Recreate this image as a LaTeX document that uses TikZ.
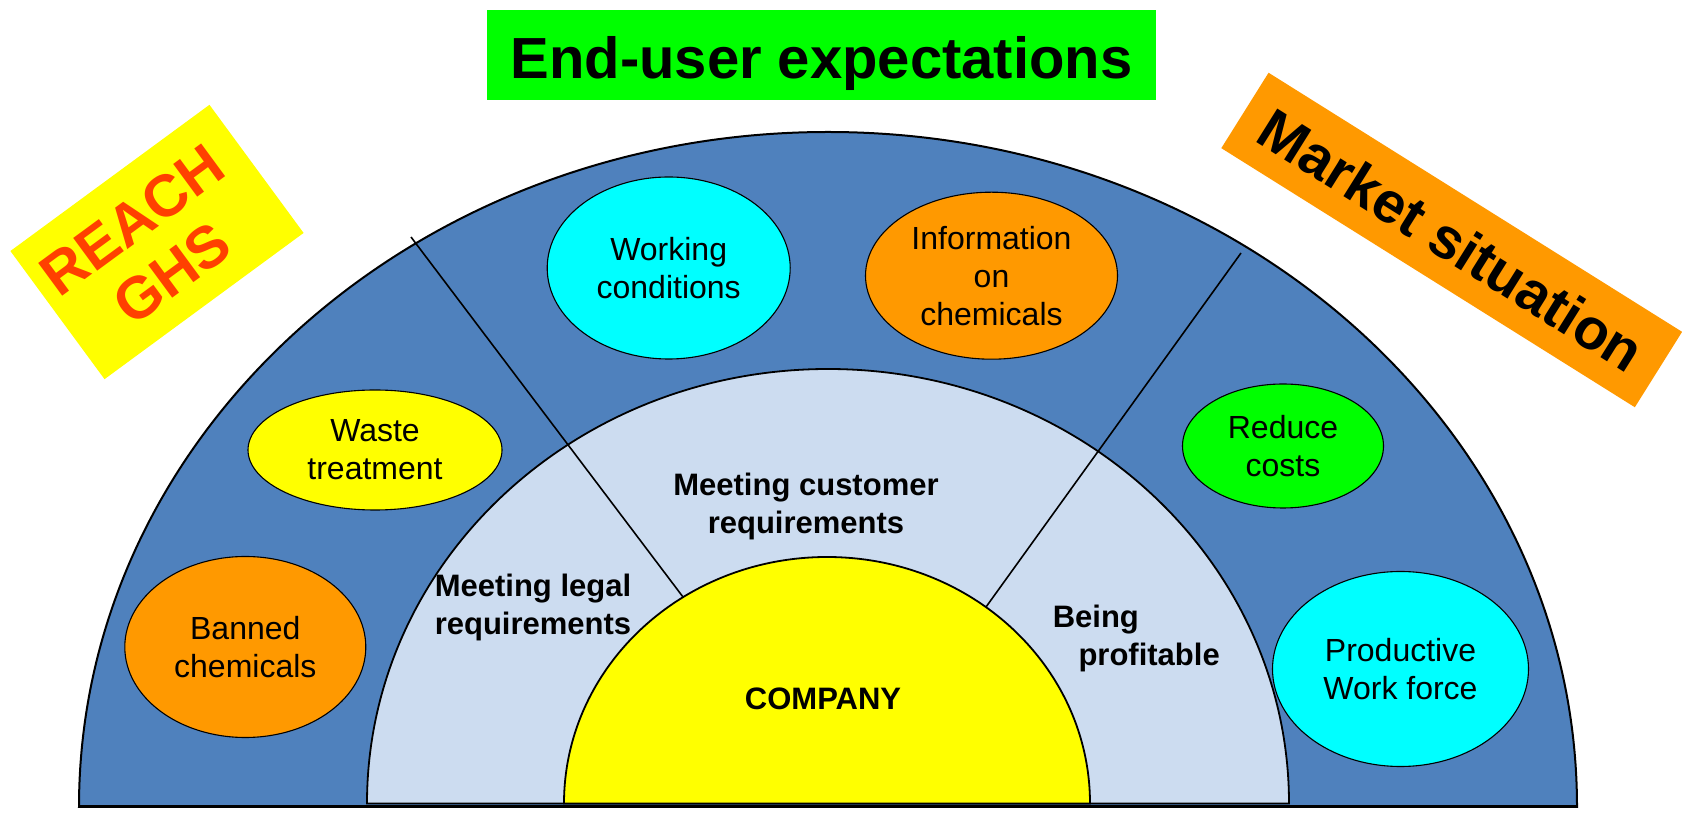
\documentclass[tikz,border=0pt]{standalone}
\usepackage{fontspec}
\setmainfont{Liberation Sans}
\usetikzlibrary{shapes.geometric}
\definecolor{outerblue}{HTML}{4F81BD}
\definecolor{lightblue}{HTML}{CCDCF0}
\definecolor{myorange}{HTML}{FF9900}
\definecolor{mycyan}{HTML}{00FFFF}
\definecolor{mygreen}{HTML}{00FF00}
\definecolor{myyellow}{HTML}{FFFF00}
\definecolor{reachred}{HTML}{FF4000}
\begin{document}
\begin{tikzpicture}[x=1pt,y=1pt,
  bubble/.style={ellipse, draw=black, line width=1.1pt, inner sep=0pt, align=center,
    font=\fontsize{32}{38}\selectfont},
  ringlabel/.style={inner sep=0pt, font=\bfseries\fontsize{31}{38}\selectfont},
  divider/.style={draw=black, line width=1.6pt},
  band/.style={draw=black, line width=1.8pt},
  banner/.style={inner sep=0pt}
]
\useasboundingbox (0,0) rectangle (1682,814);
\fill[white] (0,0) rectangle (1682,814);

% title
\node[banner, fill=mygreen, minimum width=669pt, minimum height=90pt] (titlebox) at (821.5,759) {};
\node[banner, anchor=base, font=\bfseries\fontsize{58}{64}\selectfont] (title) at (821.5,735) {End-user expectations};

% REACH box
\node[banner, fill=myyellow, rotate=36.3, minimum width=247pt, minimum height=159pt] (reachbox) at (157,572) {};
\node[banner, rotate=36.3, align=center, text=reachred, font=\bfseries\fontsize{59}{66}\selectfont] (reach) at (152,567) {REACH\\GHS};

% Market box
\node[banner, fill=myorange, rotate=-32.07, minimum width=488pt, minimum height=89pt] (marketbox) at (1451.7,574) {};
\node[banner, rotate=-32.07, font=\bfseries\fontsize{57.5}{64}\selectfont] (market) at (1451.7,574) {Market situation};

% rings
\draw[band, fill=outerblue, line width=2pt] (79,7) arc[start angle=180, end angle=0, x radius=749, y radius=675] -- cycle;
\draw[line width=3pt] (79,7) -- (1577,7);
\draw[band, fill=lightblue] (367,10.5) arc[start angle=180, end angle=0, x radius=461, y radius=434.5] -- cycle;

% dividers
\coordinate (ltop) at (411,577);
\coordinate (lbot) at (683,217);
\coordinate (rtop) at (1241,561);
\coordinate (rbot) at (986,207);
\draw[divider] (ltop) -- (lbot);
\draw[divider] (rtop) -- (rbot);

\draw[band, fill=myyellow] (564,10.5) arc[start angle=180, end angle=0, x radius=263, y radius=246.5] -- cycle;

% bubbles
\node[bubble, fill=mycyan, minimum width=243pt, minimum height=182pt] (working) at (668.7,546) {Working\\conditions};
\node[bubble, fill=myorange, minimum width=252pt, minimum height=167pt] (info) at (991.5,538.3) {Information\\on\\chemicals};
\node[bubble, fill=myyellow, minimum width=254pt, minimum height=120pt] (waste) at (375,364) {Waste\\treatment};
\node[bubble, fill=myorange, minimum width=241pt, minimum height=181pt] (banned) at (245.3,167) {Banned\\chemicals};
\node[bubble, fill=mygreen, minimum width=201pt, minimum height=124pt] (reduce) at (1283,368) {Reduce\\costs};
\node[bubble, fill=mycyan, minimum width=256pt, minimum height=195pt] (productive) at (1400.5,145) {Productive\\Work force};

% ring labels
\node[ringlabel, align=center] (cust) at (806,308) {Meeting customer\\requirements};
\node[ringlabel, align=center] (legal) at (533,207) {Meeting legal\\requirements};
\node[ringlabel, align=left, anchor=west] (profit) at (1052.6,176) {Being\\\hspace{25.7pt}profitable};
\node[ringlabel, anchor=base] (company) at (823,104) {COMPANY};
\end{tikzpicture}
\end{document}
